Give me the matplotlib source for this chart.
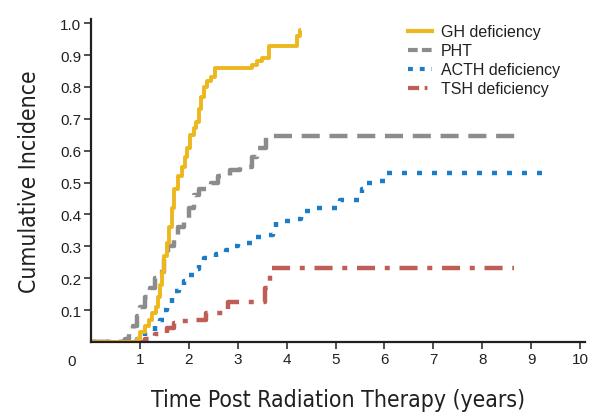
import matplotlib
matplotlib.use('Agg')
import matplotlib.pyplot as plt
from matplotlib.lines import Line2D

plt.rcParams['lines.scale_dashes'] = False

# time (years) and cumulative incidence, step curves
gh_t = [0, 0.88, 0.95, 1.0, 1.1, 1.18, 1.25, 1.32, 1.37, 1.41, 1.45, 1.5, 1.55, 1.6, 1.65, 1.7,
        1.78, 1.85, 1.92, 1.97, 2.03, 2.1, 2.15, 2.2, 2.25, 2.3, 2.38, 2.45, 2.53,
        3.3, 3.4, 3.5, 3.63, 4.22, 4.27, 4.3]
gh_y = [0, 0.0, 0.01, 0.03, 0.05, 0.07, 0.09, 0.11, 0.14, 0.18, 0.22, 0.27, 0.31, 0.36, 0.42, 0.48,
        0.52, 0.55, 0.58, 0.61, 0.65, 0.67, 0.69, 0.73, 0.77, 0.80, 0.82, 0.83, 0.86,
        0.87, 0.88, 0.89, 0.93, 0.96, 0.98, 0.98]

pht_t = [0, 0.7, 0.78, 0.85, 0.93, 1.0, 1.1, 1.2, 1.3, 1.4, 1.5, 1.58, 1.7, 1.78, 1.9, 2.0,
         2.1, 2.2, 2.45, 2.6, 2.85, 3.05, 3.3, 3.4, 3.58, 8.8]
pht_y = [0, 0.01, 0.03, 0.05, 0.08, 0.11, 0.14, 0.17, 0.20, 0.22, 0.26, 0.30, 0.33, 0.36, 0.38, 0.42,
         0.46, 0.48, 0.50, 0.52, 0.54, 0.55, 0.58, 0.61, 0.645, 0.645]

acth_t = [0, 0.95, 1.1, 1.3, 1.42, 1.5, 1.55, 1.65, 1.72, 1.8, 1.9, 2.0, 2.1, 2.2, 2.3, 2.55,
          2.75, 2.85, 3.0, 3.3, 3.6, 3.72, 3.78, 4.1, 4.3, 4.6, 5.1, 5.5, 5.55, 5.6, 5.85, 6.05, 9.3]
acth_y = [0, 0.01, 0.03, 0.05, 0.07, 0.10, 0.12, 0.14, 0.16, 0.18, 0.19, 0.21, 0.23, 0.25, 0.265, 0.275,
          0.29, 0.30, 0.31, 0.33, 0.335, 0.36, 0.38, 0.385, 0.41, 0.42, 0.445, 0.45, 0.48, 0.50, 0.505, 0.53, 0.53]

tsh_t = [0, 1.1, 1.3, 1.55, 1.7, 1.8, 2.1, 2.35, 2.8, 3.55, 3.65, 8.65]
tsh_y = [0, 0.01, 0.025, 0.045, 0.06, 0.065, 0.07, 0.09, 0.125, 0.17, 0.232, 0.232]

labels = ['GH deficiency', 'PHT', 'ACTH deficiency', 'TSH deficiency']
colors = ['#EDB71E', '#8C8C8C', '#1B7CC8', '#BE5E57']

yticks = [0.1, 0.2, 0.3, 0.4, 0.5, 0.6, 0.7, 0.8, 0.9, 1.0]
xticks = [1, 2, 3, 4, 5, 6, 7, 8, 9, 10]

fig = plt.figure(figsize=(5.93, 4.14), dpi=100)
ax = fig.add_axes([0.1535, 0.1715, 0.833, 0.780])

lw = 3.2
ax.plot(tsh_t, tsh_y, color=colors[3], lw=lw, drawstyle='steps-post',
        dashes=(13, 7, 3.6, 7), dash_capstyle='butt')
ax.plot(acth_t, acth_y, color=colors[2], lw=lw, drawstyle='steps-post',
        dashes=(3.6, 7.2), dash_capstyle='butt')
ax.plot(pht_t, pht_y, color=colors[1], lw=lw, drawstyle='steps-post',
        dashes=(13, 7), dash_capstyle='butt')
ax.plot(gh_t, gh_y, color=colors[0], lw=2.8, drawstyle='steps-post', solid_capstyle='butt')

ax.set_xlim(0, 10.1)
ax.set_ylim(0, 1.013)
ax.set_xticks(xticks)
ax.set_yticks(yticks)
ax.set_xticklabels([str(v) for v in xticks])
ax.set_yticklabels(['%.1f' % v for v in yticks])

for s in ['top', 'right']:
    ax.spines[s].set_visible(False)
for s in ['left', 'bottom']:
    ax.spines[s].set_linewidth(1.6)
    ax.spines[s].set_color('#231F20')
tickfont = ['Liberation Sans', 'DejaVu Sans']
ax.tick_params(length=5, width=1.1, color='#231F20', labelsize=11, pad=2)
for t in ax.get_xticklabels() + ax.get_yticklabels():
    t.set_family(tickfont)
    t.set_color('#231F20')

ax.text(-0.39, -0.06, '0', ha='center', va='center', fontsize=11,
        family=tickfont, color='#231F20', clip_on=False)

ax.set_xlabel('Time Post Radiation Therapy (years)', fontsize=16.5, family='DejaVu Sans',
              stretch='condensed', color='#231F20', labelpad=16)
ax.set_ylabel('Cumulative Incidence', fontsize=16.5, family='DejaVu Sans',
              stretch='condensed', color='#231F20', labelpad=14)

handles = [
    Line2D([], [], color=colors[0], lw=3),
    Line2D([], [], color=colors[1], lw=3, dashes=(7, 3), dash_capstyle='butt'),
    Line2D([], [], color=colors[2], lw=3, dashes=(3.5, 5), dash_capstyle='butt'),
    Line2D([], [], color=colors[3], lw=3, dashes=(8, 4, 2, 4), dash_capstyle='butt'),
]
leg = ax.legend(handles, labels, loc='upper left', bbox_to_anchor=(394 / 593, 1 - 11 / 414),
                bbox_transform=fig.transFigure, frameon=False,
                handlelength=1.45, handletextpad=0.6, labelspacing=0.25,
                prop={'family': tickfont, 'size': 11.5})
for t in leg.get_texts():
    t.set_color('#231F20')

fig.savefig('out.png', dpi=100)
